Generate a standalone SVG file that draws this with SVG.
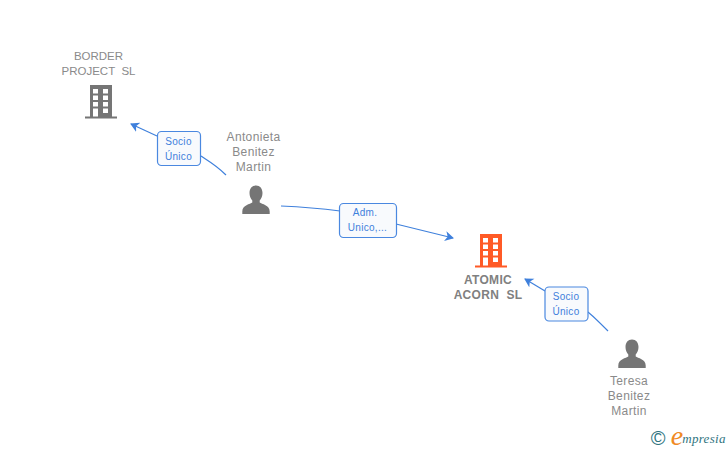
<svg xmlns="http://www.w3.org/2000/svg" width="728" height="450" viewBox="0 0 728 450">
<style>
text{white-space:pre}
.l{font-family:"Liberation Sans",Arial,sans-serif;font-size:12px;fill:#8a8a8a;text-anchor:middle;letter-spacing:.35px}
.u{font-family:"Liberation Sans",Arial,sans-serif;font-size:11.500px;fill:#8a8a8a;text-anchor:middle}
.b{font-family:"Liberation Sans",Arial,sans-serif;font-size:12px;font-weight:bold;fill:#808080;text-anchor:middle;letter-spacing:.3px}
.e{font-family:"Liberation Sans",Arial,sans-serif;font-size:10px;fill:#3f80dc;text-anchor:middle;letter-spacing:.3px}
.c{fill:none;stroke:#3f80dc;stroke-width:1.2}
.lb{fill:#f8fafd;stroke:#4a88e0;stroke-width:1.2}
.w{fill:#fff}
</style>
<defs>
<marker id="a" markerWidth="12" markerHeight="12" refX="8" refY="5" orient="auto" markerUnits="userSpaceOnUse"><path d="M0 0L9 5L0 10L2.500 5Z" fill="#3f80dc"/></marker>
<g id="bld">
<path d="M-16 14.500h5V-17h22V14.500h5V16.500H-16Z"/>
<path class="w" d="M-8-13h5v4.500h-5ZM2-13h5v4.500h-5ZM-8-6.500h5v4.500h-5ZM2-6.500h5v4.500h-5ZM-8 0h5v4.500h-5ZM2 0h5v4.500h-5ZM-8 6.500h5v8h-5ZM2 6.500h5v4.500h-5Z"/>
</g>
<path id="psn" d="M0-14.500c4 0 6.500 3 6.500 7.500 0 3-1.200 5.500-2.800 7.500v2c2 1.500 10 2.500 10 9v2.500h-27.400V11.500c0-6.500 8-7.500 10-9v-2C-5.300-1.500-6.500-4-6.500-7-6.500-11.500-4-14.500 0-14.500Z"/>
</defs>
<g id="connectors">
<path class="c" d="M226 175C215 164 205 159 201 156"/>
<path class="c" marker-end="url(#a)" d="M157 136L131 124"/>
<path class="c" d="M281 206C305 207 325 209 340 211"/>
<path class="c" marker-end="url(#a)" d="M396 224L453 238"/>
<path class="c" d="M608 331C600 323 593 316 588 312"/>
<path class="c" marker-end="url(#a)" d="M545 291L525 279"/>
</g>
<g id="node-border-project">
<text class="u" x="98.500" y="60">BORDER</text>
<text class="u" x="98.500" y="75">PROJECT  SL</text>
<use href="#bld" x="101" y="102" fill="#757575"/>
</g>
<g id="node-antonieta">
<text class="l" x="253.500" y="141">Antonieta</text>
<text class="l" x="253.500" y="156">Benitez</text>
<text class="l" x="253.500" y="171">Martin</text>
<use href="#psn" x="256" y="200" fill="#757575"/>
</g>
<g id="node-atomic">
<use href="#bld" x="491" y="251" fill="#ff5a26"/>
<text class="b" x="488" y="284">ATOMIC</text>
<text class="b" x="488" y="299">ACORN  SL</text>
</g>
<g id="node-teresa">
<use href="#psn" x="632" y="354" fill="#757575"/>
<text class="l" x="629" y="385">Teresa</text>
<text class="l" x="629" y="400">Benitez</text>
<text class="l" x="629" y="415">Martin</text>
</g>
<g id="label-socio-1">
<rect class="lb" x="157.500" y="131.500" width="43" height="34" rx="4"/>
<text class="e" x="178.500" y="145">Socio</text>
<text class="e" x="178.500" y="160">Único</text>
</g>
<g id="label-adm">
<rect class="lb" x="339.500" y="203.500" width="57" height="34" rx="4"/>
<text class="e" x="365" y="216">Adm.</text>
<text class="e" x="367.500" y="231">Unico,...</text>
</g>
<g id="label-socio-2">
<rect class="lb" x="545" y="287" width="43" height="34" rx="4"/>
<text class="e" x="566" y="300">Socio</text>
<text class="e" x="566" y="315">Único</text>
</g>
<g id="logo">
<text x="658" y="445" font-family="Liberation Sans,sans-serif" font-size="20" fill="#2f7480" text-anchor="middle">©</text>
<text x="677" y="445" font-family="Liberation Serif,serif" font-style="italic" font-size="28" fill="#f08a24" text-anchor="middle">e</text>
<text x="704" y="443" font-family="Liberation Serif,serif" font-style="italic" font-size="13" fill="#2f7480" text-anchor="middle" letter-spacing=".3">mpresia</text>
</g>
</svg>
